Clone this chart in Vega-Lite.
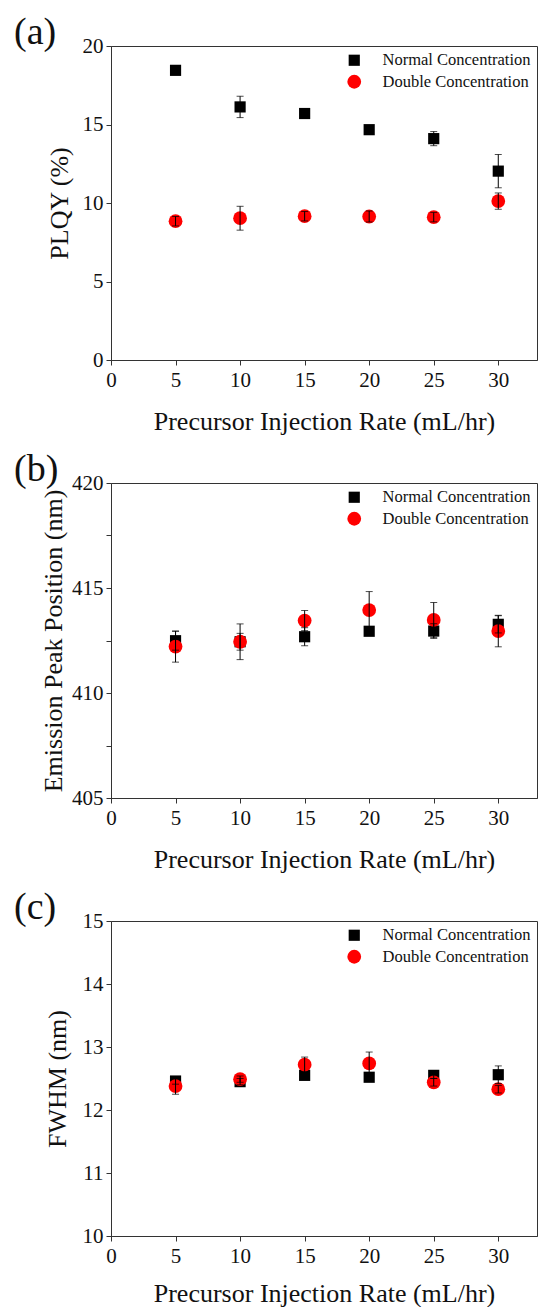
{
  "$schema": "https://vega.github.io/schema/vega-lite/v6.json",
  "background": "white",
  "padding": {"left": 13, "top": 13, "right": 0, "bottom": 0},
  "datasets": {
    "d": [
      {"panel": "a", "series": "Normal Concentration", "rate": 5, "value": 18.45, "err": 0.15},
      {"panel": "a", "series": "Normal Concentration", "rate": 10, "value": 16.12, "err": 0.68},
      {"panel": "a", "series": "Normal Concentration", "rate": 15, "value": 15.7, "err": 0.12},
      {"panel": "a", "series": "Normal Concentration", "rate": 20, "value": 14.67, "err": 0.08},
      {"panel": "a", "series": "Normal Concentration", "rate": 25, "value": 14.1, "err": 0.45},
      {"panel": "a", "series": "Normal Concentration", "rate": 30, "value": 12.03, "err": 1.06},
      {"panel": "a", "series": "Double Concentration", "rate": 5, "value": 8.84, "err": 0.3},
      {"panel": "a", "series": "Double Concentration", "rate": 10, "value": 9.03, "err": 0.76},
      {"panel": "a", "series": "Double Concentration", "rate": 15, "value": 9.16, "err": 0.3},
      {"panel": "a", "series": "Double Concentration", "rate": 20, "value": 9.14, "err": 0.35},
      {"panel": "a", "series": "Double Concentration", "rate": 25, "value": 9.1, "err": 0.3},
      {"panel": "a", "series": "Double Concentration", "rate": 30, "value": 10.12, "err": 0.52},
      {"panel": "b", "series": "Normal Concentration", "rate": 5, "value": 412.49, "err": 0.45},
      {"panel": "b", "series": "Normal Concentration", "rate": 10, "value": 412.44, "err": 0.4},
      {"panel": "b", "series": "Normal Concentration", "rate": 15, "value": 412.68, "err": 0.43},
      {"panel": "b", "series": "Normal Concentration", "rate": 20, "value": 412.94, "err": 0.1},
      {"panel": "b", "series": "Normal Concentration", "rate": 25, "value": 412.95, "err": 0.35},
      {"panel": "b", "series": "Normal Concentration", "rate": 30, "value": 413.27, "err": 0.41},
      {"panel": "b", "series": "Double Concentration", "rate": 5, "value": 412.21, "err": 0.74},
      {"panel": "b", "series": "Double Concentration", "rate": 10, "value": 412.44, "err": 0.85},
      {"panel": "b", "series": "Double Concentration", "rate": 15, "value": 413.45, "err": 0.48},
      {"panel": "b", "series": "Double Concentration", "rate": 20, "value": 413.95, "err": 0.88},
      {"panel": "b", "series": "Double Concentration", "rate": 25, "value": 413.48, "err": 0.83},
      {"panel": "b", "series": "Double Concentration", "rate": 30, "value": 412.95, "err": 0.75},
      {"panel": "c", "series": "Normal Concentration", "rate": 5, "value": 12.46, "err": 0.05},
      {"panel": "c", "series": "Normal Concentration", "rate": 10, "value": 12.45, "err": 0.05},
      {"panel": "c", "series": "Normal Concentration", "rate": 15, "value": 12.55, "err": 0.04},
      {"panel": "c", "series": "Normal Concentration", "rate": 20, "value": 12.52, "err": 0.04},
      {"panel": "c", "series": "Normal Concentration", "rate": 25, "value": 12.55, "err": 0.05},
      {"panel": "c", "series": "Normal Concentration", "rate": 30, "value": 12.56, "err": 0.14},
      {"panel": "c", "series": "Double Concentration", "rate": 5, "value": 12.38, "err": 0.13},
      {"panel": "c", "series": "Double Concentration", "rate": 10, "value": 12.49, "err": 0.05},
      {"panel": "c", "series": "Double Concentration", "rate": 15, "value": 12.72, "err": 0.12},
      {"panel": "c", "series": "Double Concentration", "rate": 20, "value": 12.74, "err": 0.18},
      {"panel": "c", "series": "Double Concentration", "rate": 25, "value": 12.44, "err": 0.06},
      {"panel": "c", "series": "Double Concentration", "rate": 30, "value": 12.33, "err": 0.06}
    ]
  },
  "spacing": 123,
  "bounds": "flush",
  "resolve": {
    "scale": {"color": "independent", "shape": "independent", "size": "independent"},
    "legend": {"color": "independent", "shape": "independent"}
  },
  "vconcat": [
    {
      "width": 426, "height": 314,
      "title": {"text": "(a)"},
      "data": {"name": "d"},
      "transform": [{"filter": "datum.panel === 'a'"}],
      "layer": [
        {
          "mark": {"type": "point", "filled": true, "opacity": 1, "strokeWidth": 0},
          "encoding": {
            "x": {"field": "rate", "type": "quantitative", "title": "Precursor Injection Rate (mL/hr)", "scale": {"domain": [0, 33], "nice": false},
              "axis": {"values": [0, 2.5, 5, 7.5, 10, 12.5, 15, 17.5, 20, 22.5, 25, 27.5, 30, 32.5],
                "labelExpr": "datum.value % 5 === 0 ? format(datum.value, '.0f') : ''",
                "encode": {"ticks": {"update": {"y2": {"signal": "datum.value % 5 === 0 ? 5 : 3"}}}}}},
            "y": {"field": "value", "type": "quantitative", "title": "PLQY (%)", "scale": {"domain": [0, 20], "nice": false, "zero": false},
              "axis": {"values": [0, 2.5, 5, 7.5, 10, 12.5, 15, 17.5, 20], "titlePadding": 10,
                "labelExpr": "datum.value % 5 === 0 ? format(datum.value, '.0f') : ''",
                "encode": {"ticks": {"update": {"x2": {"signal": "datum.value % 5 === 0 ? -5 : -3"}}}}}},
            "shape": {"field": "series", "type": "nominal", "scale": {"domain": ["Normal Concentration", "Double Concentration"], "range": ["square", "circle"]}, "legend": {"title": null}},
            "color": {"field": "series", "type": "nominal", "scale": {"domain": ["Normal Concentration", "Double Concentration"], "range": ["#000000", "#ff0000"]}, "legend": {"title": null}},
            "size": {"field": "series", "type": "nominal", "scale": {"domain": ["Normal Concentration", "Double Concentration"], "range": [125, 190]}, "legend": null}
          }
        },
        {
          "mark": {"type": "errorbar", "ticks": {"size": 7, "color": "black"}, "rule": {"color": "black"}},
          "encoding": {
            "x": {"field": "rate", "type": "quantitative", "title": "Precursor Injection Rate (mL/hr)"},
            "y": {"field": "value", "type": "quantitative", "title": "PLQY (%)"},
            "yError": {"field": "err"}
          }
        }
      ]
    },
    {
      "width": 426, "height": 315,
      "title": {"text": "(b)"},
      "data": {"name": "d"},
      "transform": [{"filter": "datum.panel === 'b'"}],
      "layer": [
        {
          "mark": {"type": "point", "filled": true, "opacity": 1, "strokeWidth": 0},
          "encoding": {
            "x": {"field": "rate", "type": "quantitative", "title": "Precursor Injection Rate (mL/hr)", "scale": {"domain": [0, 33], "nice": false},
              "axis": {"values": [0, 2.5, 5, 7.5, 10, 12.5, 15, 17.5, 20, 22.5, 25, 27.5, 30, 32.5],
                "labelExpr": "datum.value % 5 === 0 ? format(datum.value, '.0f') : ''",
                "encode": {"ticks": {"update": {"y2": {"signal": "datum.value % 5 === 0 ? 5 : 3"}}}}}},
            "y": {"field": "value", "type": "quantitative", "title": "Emission Peak Position (nm)", "scale": {"domain": [405, 420], "nice": false, "zero": false},
              "axis": {"values": [405, 407.5, 410, 412.5, 415, 417.5, 420], "titlePadding": 5,
                "labelExpr": "datum.value % 5 === 0 ? format(datum.value, '.0f') : ''",
                "encode": {"ticks": {"update": {"x2": {"signal": "datum.value % 5 === 0 ? -5 : -3"}}}}}},
            "shape": {"field": "series", "type": "nominal", "scale": {"domain": ["Normal Concentration", "Double Concentration"], "range": ["square", "circle"]}, "legend": {"title": null}},
            "color": {"field": "series", "type": "nominal", "scale": {"domain": ["Normal Concentration", "Double Concentration"], "range": ["#000000", "#ff0000"]}, "legend": {"title": null}},
            "size": {"field": "series", "type": "nominal", "scale": {"domain": ["Normal Concentration", "Double Concentration"], "range": [125, 190]}, "legend": null}
          }
        },
        {
          "mark": {"type": "errorbar", "ticks": {"size": 7, "color": "black"}, "rule": {"color": "black"}},
          "encoding": {
            "x": {"field": "rate", "type": "quantitative", "title": "Precursor Injection Rate (mL/hr)"},
            "y": {"field": "value", "type": "quantitative", "title": "Emission Peak Position (nm)"},
            "yError": {"field": "err"}
          }
        }
      ]
    },
    {
      "width": 426, "height": 315,
      "title": {"text": "(c)"},
      "data": {"name": "d"},
      "transform": [{"filter": "datum.panel === 'c'"}],
      "layer": [
        {
          "mark": {"type": "point", "filled": true, "opacity": 1, "strokeWidth": 0},
          "encoding": {
            "x": {"field": "rate", "type": "quantitative", "title": "Precursor Injection Rate (mL/hr)", "scale": {"domain": [0, 33], "nice": false},
              "axis": {"values": [0, 2.5, 5, 7.5, 10, 12.5, 15, 17.5, 20, 22.5, 25, 27.5, 30, 32.5], "titlePadding": 14,
                "labelExpr": "datum.value % 5 === 0 ? format(datum.value, '.0f') : ''",
                "encode": {"ticks": {"update": {"y2": {"signal": "datum.value % 5 === 0 ? 5 : 3"}}}}}},
            "y": {"field": "value", "type": "quantitative", "title": "FWHM (nm)", "scale": {"domain": [10, 15], "nice": false, "zero": false},
              "axis": {"values": [10, 10.5, 11, 11.5, 12, 12.5, 13, 13.5, 14, 14.5, 15], "titlePadding": 12,
                "labelExpr": "datum.value % 1 === 0 ? format(datum.value, '.0f') : ''",
                "encode": {"ticks": {"update": {"x2": {"signal": "datum.value % 1 === 0 ? -5 : -3"}}}}}},
            "shape": {"field": "series", "type": "nominal", "scale": {"domain": ["Normal Concentration", "Double Concentration"], "range": ["square", "circle"]}, "legend": {"title": null}},
            "color": {"field": "series", "type": "nominal", "scale": {"domain": ["Normal Concentration", "Double Concentration"], "range": ["#000000", "#ff0000"]}, "legend": {"title": null}},
            "size": {"field": "series", "type": "nominal", "scale": {"domain": ["Normal Concentration", "Double Concentration"], "range": [125, 190]}, "legend": null}
          }
        },
        {
          "mark": {"type": "errorbar", "ticks": {"size": 7, "color": "black"}, "rule": {"color": "black"}},
          "encoding": {
            "x": {"field": "rate", "type": "quantitative", "title": "Precursor Injection Rate (mL/hr)"},
            "y": {"field": "value", "type": "quantitative", "title": "FWHM (nm)"},
            "yError": {"field": "err"}
          }
        }
      ]
    }
  ],
  "config": {
    "font": "Liberation Serif",
    "view": {"stroke": "#333333", "strokeWidth": 1},
    "axis": {
      "grid": false,
      "domainColor": "#333333",
      "tickColor": "#333333",
      "tickSize": 5,
      "labelFont": "Liberation Serif",
      "labelFontSize": 21,
      "labelColor": "#111111",
      "labelPadding": 3,
      "labelFlush": false,
      "labelOverlap": false,
      "titleFont": "Liberation Serif",
      "titleFontSize": 26,
      "titleFontWeight": "normal",
      "titleColor": "#111111"
    },
    "axisX": {"titlePadding": 18, "labelPadding": 4},
    "legend": {
      "orient": "top-right",
      "offset": 6,
      "padding": 0,
      "labelFont": "Liberation Serif",
      "labelFontSize": 16.5,
      "labelColor": "#111111",
      "symbolSize": 90,
      "symbolStrokeWidth": 0,
      "symbolOpacity": 1,
      "labelOffset": 20,
      "rowPadding": 4.5
    },
    "title": {
      "anchor": "start",
      "frame": "group",
      "dx": -97,
      "dy": 19.5,
      "offset": 3,
      "baseline": "alphabetic",
      "font": "Liberation Serif",
      "fontSize": 38,
      "fontWeight": "normal",
      "color": "#111111"
    }
  }
}
